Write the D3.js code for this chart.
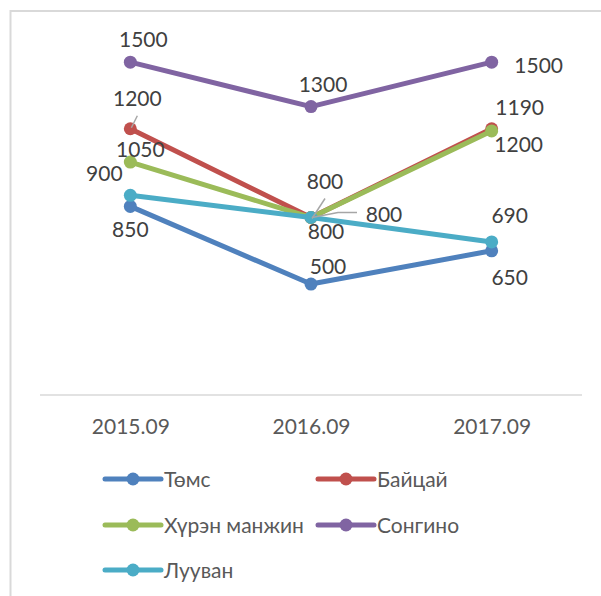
<!DOCTYPE html>
<html>
<head>
<meta charset="utf-8">
<script src="https://cdn.jsdelivr.net/npm/d3@7"></script>
<style>
  body { margin: 0; background: #fff; }
  text { font-family: Lato, "Open Sans", sans-serif; }
</style>
</head>
<body>
<svg id="chart" width="601" height="596"></svg>
<script>
const categories = ['2015.09', '2016.09', '2017.09'];
const seriesNames = ['Төмс', 'Байцай', 'Хүрэн манжин', 'Сонгино', 'Лууван'];
const tomsValues = [850, 500, 650];
const baitsaiValues = [1200, 800, 1200];
const manjinValues = [1050, 800, 1190];
const songinoValues = [1500, 1300, 1500];
const luuvanValues = [900, 800, 690];
const yMax = 1600;

const colors = ['#4f81bd', '#c0504d', '#9bbb59', '#8064a2', '#4bacc6'];

// label offsets from the point (dx = text centre, dy = baseline), moved by hand like in excel
const labelOffsets = [
  [[0, 31], [17, -10], [18, 34]],
  [[7, -23], [73, 4], [27, 23]],
  [[10, -5], [14, -29], [28, -16]],
  [[13, -15], [12, -15], [47, 11]],
  [[-26, -14], [15, 21], [18, -19]]
];
// leader lines: [series, point, from dx,dy ... to point]
const leaders = [
  [1, 0, [[7, -13], [1, -1]]],
  [1, 1, [[46, -5], [27, -5], [1, 0]]],
  [2, 1, [[14, -19], [1, 1]]]
];

const series = seriesNames.map((name, i) => ({
  name,
  color: colors[i],
  values: [tomsValues, baitsaiValues, manjinValues, songinoValues, luuvanValues][i]
}));

const svg = d3.select('#chart');

// chart frame (runs off the page at right and bottom)
svg.append('rect')
  .attr('x', 10.5).attr('y', 11)
  .attr('width', 620).attr('height', 620)
  .attr('fill', 'none')
  .attr('stroke', '#d9d9d9')
  .attr('stroke-width', 2);

const x = d3.scalePoint()
  .domain(categories)
  .range([40, 582])
  .padding(0.5);

const y = d3.scaleLinear()
  .domain([0, yMax])
  .range([395, 40]);

const xAxis = d3.axisBottom(x).tickSize(0).tickPadding(24);

const axisG = svg.append('g')
  .attr('transform', `translate(0,${y(0)})`)
  .call(xAxis);
axisG.select('.domain')
  .attr('d', 'M40,0H582')
  .attr('stroke', '#d9d9d9')
  .attr('stroke-width', 1.5);
axisG.selectAll('text')
  .attr('font-size', 21)
  .attr('fill', '#595959')
  .attr('font-family', 'Lato, "Open Sans", sans-serif');

const line = d3.line()
  .x((d, i) => x(categories[i]))
  .y(d => y(d));

const sg = svg.selectAll('.series')
  .data(series)
  .enter().append('g')
  .attr('class', 'series');

sg.append('path')
  .attr('d', s => line(s.values))
  .attr('fill', 'none')
  .attr('stroke', s => s.color)
  .attr('stroke-width', 5)
  .attr('stroke-linejoin', 'round')
  .attr('stroke-linecap', 'round');

sg.selectAll('circle')
  .data(s => s.values.map(v => ({ v, color: s.color })))
  .enter().append('circle')
  .attr('cx', (d, i) => x(categories[i]))
  .attr('cy', d => y(d.v))
  .attr('r', 6.5)
  .attr('fill', d => d.color);

// leader lines
leaders.forEach(([si, pi, pts]) => {
  const px = x(categories[pi]);
  const py = y(series[si].values[pi]);
  svg.append('path')
    .attr('d', d3.line()(pts.map(p => [px + p[0], py + p[1]])))
    .attr('fill', 'none')
    .attr('stroke', '#a6a6a6')
    .attr('stroke-width', 1.5);
});

// data labels
series.forEach((s, si) => {
  svg.selectAll(null)
    .data(s.values)
    .enter().append('text')
    .attr('x', (d, i) => x(categories[i]) + labelOffsets[si][i][0])
    .attr('y', (d, i) => y(d) + labelOffsets[si][i][1])
    .attr('text-anchor', 'middle')
    .attr('font-size', 21)
    .attr('fill', '#404040')
    .text(d => d);
});

// legend
const legendPos = [[105, 479], [318, 479], [105, 525], [318, 525], [105, 570]];
const lg = svg.selectAll('.legend')
  .data(series)
  .enter().append('g')
  .attr('class', 'legend')
  .attr('transform', (s, i) => `translate(${legendPos[i][0]},${legendPos[i][1]})`);

lg.append('line')
  .attr('x1', 0).attr('x2', 56)
  .attr('stroke', s => s.color)
  .attr('stroke-width', 5)
  .attr('stroke-linecap', 'round');

lg.append('circle')
  .attr('cx', 28)
  .attr('r', 6.5)
  .attr('fill', s => s.color);

lg.append('text')
  .attr('x', 59)
  .attr('y', 8)
  .attr('font-size', 21)
  .attr('fill', '#595959')
  .text(s => s.name);
</script>
</body>
</html>
